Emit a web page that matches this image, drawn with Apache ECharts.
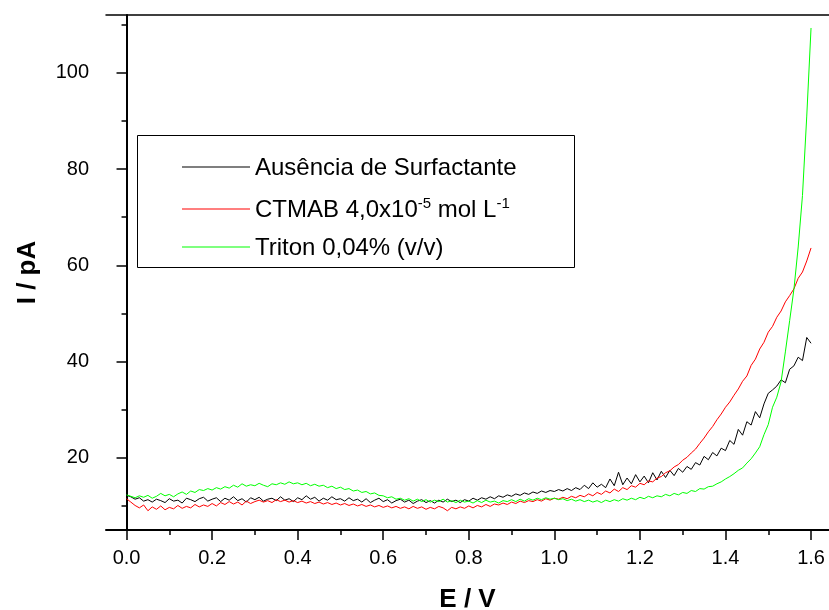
<!DOCTYPE html>
<html>
<head>
<meta charset="utf-8">
<script src="https://cdn.jsdelivr.net/npm/echarts@6/dist/echarts.min.js"></script>
<style>
html,body{margin:0;padding:0;background:#fff;}
#chart{width:829px;height:610px;}
</style>
</head>
<body>
<div id="chart"></div>
<script>
// ---- data ----
const E = [];
for (let i = 0; i <= 160; i++) E.push(+(i / 100).toFixed(2));

const ausencia = [
12.2,11.9,11.4,11.7,11.0,11.3,10.8,11.4,11.1,10.7,
11.5,11.0,11.2,10.6,11.6,11.3,10.9,11.5,11.8,11.0,
11.4,11.7,10.9,11.6,11.2,11.9,11.1,11.5,10.8,11.7,
11.3,11.8,11.0,11.4,11.6,11.1,11.9,11.2,11.5,10.9,
11.7,11.3,12.1,11.4,11.8,11.0,11.6,11.2,11.9,11.3,
11.5,11.0,11.7,11.1,11.4,10.8,11.5,10.7,11.2,11.6,
10.9,11.3,10.6,11.1,11.4,10.8,11.2,10.5,11.0,11.3,
10.7,11.1,10.6,11.2,10.8,11.4,10.9,11.2,10.7,11.3,
11.0,11.6,11.2,11.7,11.4,11.9,11.5,12.1,11.8,12.3,
12.0,12.5,12.2,12.7,12.4,12.9,12.6,13.1,12.8,13.2,
13.0,13.4,13.1,13.6,13.2,13.8,13.4,14.3,13.6,14.8,
13.9,14.5,13.8,15.6,14.2,17.0,14.4,15.8,14.6,16.5,
15.0,16.2,14.8,16.9,15.4,17.2,15.9,17.4,16.3,17.8,
17.0,18.2,17.6,19.0,18.5,20.3,19.6,21.1,20.4,22.0,
21.5,23.6,22.8,25.9,24.7,27.5,26.8,29.6,28.3,31.2,
33.4,34.1,34.9,36.2,35.6,38.4,39.1,40.9,40.2,45.0,
43.8
];

const ctmab = [
11.5,10.8,10.1,9.6,10.2,9.0,9.8,9.3,10.0,9.2,
9.7,9.4,10.1,9.5,9.9,9.6,10.3,9.8,10.2,9.9,
10.5,10.0,10.7,10.3,10.9,10.4,10.8,10.2,11.0,10.5,
10.9,11.2,10.8,11.1,10.7,11.3,10.9,11.2,10.8,11.1,
10.7,11.0,10.6,10.9,10.5,10.8,10.4,10.7,10.3,10.6,
10.2,10.5,10.1,10.4,10.0,10.3,9.9,10.2,9.8,10.1,
9.7,10.0,9.6,9.9,9.5,9.8,9.4,9.9,9.5,9.8,
9.3,9.7,9.4,9.9,9.6,9.0,9.7,9.4,9.8,9.5,
10.0,9.6,10.1,9.8,10.3,9.9,10.4,10.2,10.6,10.3,
10.8,10.5,11.0,10.7,11.1,10.9,11.3,11.0,11.5,11.2,
11.6,11.4,11.8,11.5,12.0,11.7,12.2,11.9,12.5,12.1,
12.8,12.4,13.1,12.7,13.5,13.0,13.8,13.4,14.2,13.9,
14.7,14.4,15.2,15.0,15.8,16.1,16.9,17.3,18.1,18.6,
19.5,20.1,21.0,21.8,23.0,24.1,25.4,26.5,27.9,29.1,
30.5,31.6,33.0,34.3,35.9,37.0,39.2,40.5,42.6,44.0,
46.1,47.3,49.2,50.5,52.4,53.7,55.1,57.3,58.6,60.9,
63.6
];

const triton = [
12.3,12.0,11.7,12.1,11.8,12.2,11.6,12.0,12.6,12.1,
12.4,11.9,12.5,12.9,12.4,13.1,12.8,13.4,13.2,13.6,
13.3,13.8,13.5,14.0,13.7,14.3,13.9,14.6,14.1,14.4,
14.2,14.7,14.3,14.0,14.6,14.4,14.8,14.5,15.0,14.6,
14.8,14.4,14.7,14.2,14.5,14.1,14.3,13.8,14.1,13.6,
13.9,13.4,13.6,13.1,13.3,12.8,13.0,12.5,12.7,12.2,
12.1,11.7,11.9,11.4,11.6,11.2,11.5,11.0,11.4,10.9,
11.3,10.8,11.2,10.9,11.4,10.8,11.1,10.7,11.2,10.8,
11.0,10.6,11.1,10.7,11.2,10.8,11.0,10.6,11.1,10.9,
11.3,10.9,11.4,11.0,11.5,11.2,11.6,11.3,11.7,11.4,
11.6,11.3,11.5,11.1,11.4,11.0,11.3,10.9,11.2,10.8,
11.1,10.7,11.2,10.9,11.3,11.0,11.5,11.2,11.6,11.3,
11.8,11.5,12.0,11.7,12.1,11.9,12.4,12.1,12.6,12.3,
12.8,12.6,13.2,13.0,13.6,13.5,14.0,14.1,14.6,15.0,
15.6,16.1,16.7,17.4,17.9,18.9,19.8,21.0,22.3,24.8,
26.9,30.5,32.6,35.8,42.0,48.5,55.0,63.8,74.5,91.0,
109.3
];

const xMajorTicks = [0.0, 0.2, 0.4, 0.6, 0.8, 1.0, 1.2, 1.4, 1.6];
const xMinorTicks = [0.1, 0.3, 0.5, 0.7, 0.9, 1.1, 1.3, 1.5];
const yMajorTicks = [20, 40, 60, 80, 100];
const yMinorTicks = [10, 30, 50, 70, 90, 110];

const seriesNames = ['Ausência de Surfactante', 'CTMAB', 'Triton 0,04% (v/v)'];
const seriesValues = [ausencia, ctmab, triton];
const seriesColors = ['#000000', '#ff0000', '#00ff00'];

// ---- chart ----
const FONT = '"Liberation Sans", Arial, sans-serif';
const X_MIN = -0.048, X_MAX = 1.642, Y_MIN = 5, Y_MAX = 112;

const chart = echarts.init(document.getElementById('chart'), null, {renderer: 'canvas'});

const legendTexts = [
  '{a|Ausência de Surfactante}',
  '{a|CTMAB 4,0x10}{s|-5}{a| mol L}{s|-1}',
  '{a|Triton 0,04% (v/v)}'
];
const legendTops = [156, 196, 236];

const rich = {
  a: {fontSize: 24, fontFamily: FONT, color: '#000', verticalAlign: 'bottom', lineHeight: 26},
  s: {fontSize: 15, fontFamily: FONT, color: '#000', verticalAlign: 'top', lineHeight: 26, padding: [0, 0, 12, 0]}
};

// thin horizontal bar centred in a 68x14 box (zero-area corners keep the box size)
const lineIcon = 'path://M0,0 L68,0 L68,0 Z M0,6.5 L68,6.5 L68,7.5 L0,7.5 Z M0,14 L68,14 L68,14 Z';

const option = {
  animation: false,
  backgroundColor: '#ffffff',
  grid: {left: 106, top: 15, right: 0, bottom: 80, containLabel: false, outerBoundsMode: 'none'},
  legend: seriesNames.map((n, i) => ({
    data: [{name: n, icon: lineIcon}],
    left: 182,
    top: legendTops[i],
    itemWidth: 68,
    itemHeight: 14,
    padding: 0,
    selectedMode: false,
    formatter: () => legendTexts[i],
    textStyle: {rich: rich, fontSize: 24, fontFamily: FONT, color: '#000'}
  })),
  graphic: [{
    type: 'rect',
    shape: {x: 137.5, y: 135.5, width: 437, height: 132},
    style: {fill: null, stroke: '#000', lineWidth: 1},
    z: 1
  }],
  xAxis: [
    {
      type: 'value', min: X_MIN, max: X_MAX, position: 'bottom',
      name: 'E / V', nameLocation: 'middle', nameGap: 57,
      nameTextStyle: {fontSize: 26, fontWeight: 'bold', fontFamily: FONT, color: '#000'},
      axisLine: {show: true, lineStyle: {color: '#000', width: 2}},
      axisTick: {show: true, inside: false, length: 10, customValues: xMajorTicks, lineStyle: {color: '#000', width: 1.5}},
      axisLabel: {show: true, customValues: xMajorTicks, margin: 18, fontSize: 20, fontFamily: FONT, color: '#000',
        formatter: v => v.toFixed(1)},
      splitLine: {show: false}
    },
    {
      type: 'value', min: X_MIN, max: X_MAX, position: 'bottom',
      axisLine: {show: false},
      axisTick: {show: true, inside: false, length: 5, customValues: xMinorTicks, lineStyle: {color: '#000', width: 1.5}},
      axisLabel: {show: false},
      splitLine: {show: false}
    },
    {
      type: 'value', min: X_MIN, max: X_MAX, position: 'top',
      axisLine: {show: true, lineStyle: {color: '#000', width: 1.5}},
      axisTick: {show: false}, axisLabel: {show: false}, splitLine: {show: false}
    }
  ],
  yAxis: [
    {
      type: 'value', min: Y_MIN, max: Y_MAX, position: 'left',
      name: 'I / pA', nameLocation: 'middle', nameGap: 65, nameRotate: 90,
      nameTextStyle: {fontSize: 26, fontWeight: 'bold', fontFamily: FONT, color: '#000'},
      axisLine: {show: true, lineStyle: {color: '#000', width: 2}},
      axisTick: {show: true, inside: false, length: 10, customValues: yMajorTicks, lineStyle: {color: '#000', width: 1.5}},
      axisLabel: {show: true, customValues: yMajorTicks, margin: 17, fontSize: 20, fontFamily: FONT, color: '#000'},
      splitLine: {show: false}
    },
    {
      type: 'value', min: Y_MIN, max: Y_MAX, position: 'left',
      axisLine: {show: false},
      axisTick: {show: true, inside: false, length: 5, customValues: yMinorTicks, lineStyle: {color: '#000', width: 1.5}},
      axisLabel: {show: false},
      splitLine: {show: false}
    }
  ],
  series: seriesNames.map((n, i) => ({
    name: n,
    type: 'line',
    xAxisIndex: 0,
    yAxisIndex: 0,
    symbol: 'none',
    showSymbol: false,
    smooth: false,
    lineStyle: {color: seriesColors[i], width: 1},
    itemStyle: {color: seriesColors[i]},
    data: E.map((x, k) => [x, seriesValues[i][k]]),
    z: 3
  }))
};

chart.setOption(option);
</script>
</body>
</html>
